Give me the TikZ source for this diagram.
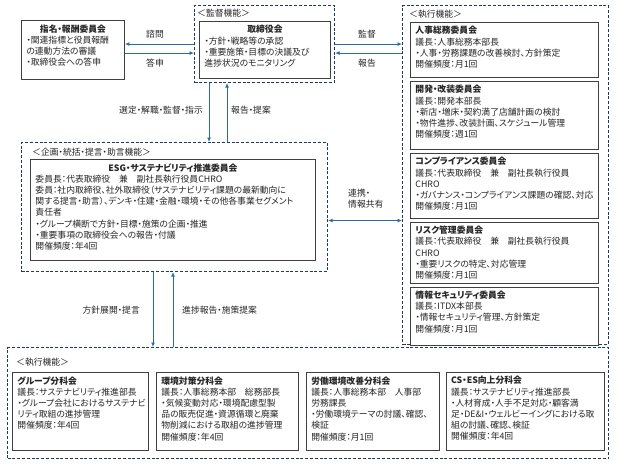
\documentclass[tikz,border=0pt]{standalone}
\usepackage{fontspec}
\setmainfont{Noto Sans CJK JP}[RawFeature=+palt]
\usetikzlibrary{arrows.meta,positioning}

\definecolor{grpline}{HTML}{1F3A5F}
\definecolor{arrline}{HTML}{2A6F9B}
\definecolor{boxline}{HTML}{3F3F3F}
\definecolor{txt}{HTML}{262626}

% text block of a committee box: height, width, lines
\newcommand{\cell}[3]{\parbox[t][#1][t]{#2}{\raggedright #3}}

\begin{document}
\begin{tikzpicture}[x=1pt,y=-1pt,
  font=\fontsize{8.8}{11.2}\selectfont, text=txt,
  grp/.style={draw=grpline, line width=1.1pt, dash pattern=on 3pt off 1.8pt, anchor=north west, inner sep=0pt},
  unit/.style={draw=boxline, line width=0.9pt, anchor=north west, inner xsep=5pt, inner ysep=4pt, fill=white},
  arr/.style={draw=arrline, line width=0.9pt, -{Latex[length=4.5pt,width=4pt]}},
  biarr/.style={arr, {Latex[length=4.5pt,width=4pt]}-{Latex[length=4.5pt,width=4pt]}},
  tag/.style={anchor=west, inner sep=0pt},
  lbl/.style={inner sep=1pt}]
\useasboundingbox (0,0) rectangle (617,469);

% groups
\node[grp, minimum width=140pt, minimum height=77pt] (kantoku) at (194,5) {};
\node[grp, minimum width=206pt, minimum height=339pt] (shikko) at (402,5) {};
\node[grp, minimum width=306pt, minimum height=129pt] (kikaku) at (21,142) {};
\node[grp, minimum width=601pt, minimum height=111pt] (bunka) at (7,347) {};

\node[tag] (kantokutag) at (197,13) {＜監督機能＞};
\node[tag] (shikkotag) at (409,14) {＜執行機能＞};
\node[tag] (kikakutag) at (32,152) {＜企画・統括・提言・助言機能＞};
\node[tag] (bunkatag) at (16,362) {＜執行機能＞};

% top row
\node[unit] (shimei) at (21,20) {\cell{51pt}{93pt}{\centerline{\textbf{指名・報酬委員会}}
  ・関連指標と役員報酬\\
  の連動方法の審議\\
  ・取締役会への答申}};
\node[unit] (torishimari) at (199,21) {\cell{49pt}{121pt}{\centerline{\textbf{取締役会}}
  ・方針・戦略等の承認\\
  ・重要施策・目標の決議及び\\
  進捗状況のモニタリング}};

% right column
\node[unit] (jinji) at (410,22) {\cell{47pt}{178pt}{\textbf{人事総務委員会}\\
  議長：人事総務本部長\\
  ・人事・労務課題の改善検討、方針策定\\
  開催頻度：月1回}};
\node[unit, below right=3pt and 0pt of jinji.south west] (kaihatsu) {\cell{60pt}{178pt}{\textbf{開発・改装委員会}\\
  議長：開発本部長\\
  ・新店・増床・契約満了店舗計画の検討\\
  ・物件進捗、改装計画、スケジュール管理\\
  開催頻度：週1回}};
\node[unit, below right=3pt and 0pt of kaihatsu.south west] (compliance) {\cell{57pt}{178pt}{\textbf{コンプライアンス委員会}\\
  議長：代表取締役　兼　副社長執行役員\\
  CHRO\\
  ・ガバナンス・コンプライアンス課題の確認、対応\\
  開催頻度：月1回}};
\node[unit, below right=3pt and 0pt of compliance.south west] (risk) {\cell{53pt}{178pt}{\textbf{リスク管理委員会}\\
  議長：代表取締役　兼　副社長執行役員\\
  CHRO\\
  ・重要リスクの特定、対応管理\\
  開催頻度：月1回}};
\node[unit, below right=3pt and 0pt of risk.south west] (security) {\cell{50pt}{178pt}{\textbf{情報セキュリティ委員会}\\
  議長：ITDX本部長\\
  ・情報セキュリティ管理、方針策定\\
  開催頻度：月1回}};

% ESG committee
\node[unit] (esg) at (30,159) {\cell{93pt}{275pt}{\centerline{\textbf{ESG・サステナビリティ推進委員会}}
  委員長：代表取締役　兼　副社長執行役員CHRO\\
  委員：社内取締役、社外取締役（サステナビリティ課題の最新動向に\\
  関する提言・助言）、デンキ・住建・金融・環境・その他各事業セグメント\\
  責任者\\
  ・グループ横断で方針・目標・施策の企画・推進\\
  ・重要事項の取締役会への報告・付議\\
  開催頻度：年4回}};

% subcommittees
\node[unit] (group) at (12,372) {\cell{70pt}{126pt}{\textbf{グループ分科会}\\
  議長：サステナビリティ推進部長\\
  ・グループ会社におけるサステナビ\\
  リティ取組の進捗管理\\
  開催頻度：年4回}};
\node[unit, right=7pt of group] (kankyo) {\cell{70pt}{132pt}{\textbf{環境対策分科会}\\
  議長：人事総務本部　総務部長\\
  ・気候変動対応・環境配慮型製\\
  品の販売促進・資源循環と廃棄\\
  物削減における取組の進捗管理\\
  開催頻度：年4回}};
\node[unit, right=7pt of kankyo] (rodo) {\cell{70pt}{123pt}{\textbf{労働環境改善分科会}\\
  議長：人事総務本部　人事部\\
  労務課長\\
  ・労働環境テーマの討議、確認、\\
  検証\\
  開催頻度：月1回}};
\node[unit, right=6pt of rodo] (csres) {\cell{70pt}{148pt}{\textbf{CS・ES向上分科会}\\
  議長：サステナビリティ推進部長\\
  ・人材育成・人手不足対応・顧客満\\
  足・DE\&I・ウェルビーイングにおける取\\
  組の討議、確認、検証\\
  開催頻度：年4回}};

% connectors
\draw[arr] (kantoku.west) -- (kantoku.west -| shimei.east);
\coordinate (toshin) at ([yshift=-9pt]kantoku.west);
\draw[arr] (toshin -| shimei.east) -- (toshin);
\node[lbl] (shimon) at (155,34) {諮問};
\node[lbl] (toshinlbl) at (155,63) {答申};

\draw[arr] (kantoku.east) -- (kantoku.east -| shikko.west);
\coordinate (hokoku) at ([yshift=-9pt]kantoku.east);
\draw[arr] (hokoku -| shikko.west) -- (hokoku);
\node[lbl] (kantokulbl) at (367,34) {監督};
\node[lbl] (hokokulbl) at (367,63) {報告};

\coordinate (sentei) at ([xshift=15pt]kantoku.south west);
\coordinate (teian) at ([xshift=33pt]kantoku.south west);
\draw[arr] (sentei) -- (sentei |- kikaku.north);
\draw[arr] (teian |- kikaku.north) -- (teian);
\node[lbl, anchor=east] (senteilbl) at (204,110) {選定・解職・監督・指示};
\node[lbl, anchor=west] (teianlbl) at (230,110) {報告・提案};

\coordinate (renkei) at ([yshift=-13.5pt]kikaku.east);
\draw[biarr] (renkei) -- (renkei -| shikko.west);
\node[lbl, anchor=west, align=left] (renkeilbl) at (347,199) {連携・\\情報共有};

\coordinate (tenkai) at ([xshift=132pt]kikaku.south west);
\coordinate (shinchoku) at ([xshift=152pt]kikaku.south west);
\draw[arr] (tenkai) -- (tenkai |- bunka.north);
\draw[arr] (shinchoku |- bunka.north) -- (shinchoku);
\node[lbl, anchor=east] (tenkailbl) at (141,310) {方針展開・提言};
\node[lbl, anchor=west] (shinchokulbl) at (181,310) {進捗報告・施策提案};
\end{tikzpicture}
\end{document}
